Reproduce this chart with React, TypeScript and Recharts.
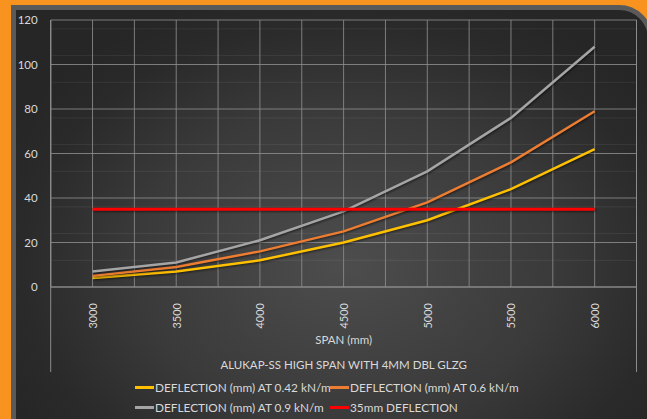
import React from 'react';
import {
  LineChart,
  Line,
  XAxis,
  YAxis,
  CartesianGrid,
  Legend,
  ReferenceLine,
  Label,
} from 'recharts';

// Spans in mm along the horizontal axis
const spans = [3000, 3500, 4000, 4500, 5000, 5500, 6000];

// Deflection (mm) for each wind load
const deflection042 = [4, 7, 12, 20, 30, 44, 62];
const deflection06 = [5, 9, 16, 25, 38, 56, 79];
const deflection09 = [7, 11, 21, 34, 52, 76, 108];
const limit35 = [35, 35, 35, 35, 35, 35, 35];

const yTicks = [0, 20, 40, 60, 80, 100, 120];
const minorY = [4, 8, 12, 16, 24, 28, 32, 36, 44, 48, 52, 56, 64, 68, 72, 76, 84, 88, 92, 96, 104, 108, 112, 116];
const gridX = [2750, 3000, 3250, 3500, 3750, 4000, 4250, 4500, 4750, 5000, 5250, 5500, 5750, 6000, 6250];

const axisTitle = 'SPAN (mm)';
const groupTitle = 'ALUKAP-SS HIGH SPAN WITH 4MM DBL GLZG';

const seriesKeys = ['d042', 'd06', 'd09', 'lim'];
const seriesNames: Record<string, string> = {
  d042: 'DEFLECTION (mm) AT 0.42 kN/m',
  d06: 'DEFLECTION (mm) AT 0.6 kN/m',
  d09: 'DEFLECTION (mm) AT 0.9 kN/m',
  lim: '35mm DEFLECTION',
};

const data = spans.map((span, i) => ({
  span,
  d042: deflection042[i],
  d06: deflection06[i],
  d09: deflection09[i],
  lim: limit35[i],
}));

const FONT = 'Lato, "Open Sans", sans-serif';
const TEXT = '#d9d9d9';
const GRID = '#8c8c8c';

const XTick = (props: any) => {
  const { x, y, payload } = props;
  return (
    <text
      x={x}
      y={y + 8}
      transform={`rotate(-90, ${x}, ${y + 8})`}
      textAnchor="end"
      dominantBaseline="central"
      fill={TEXT}
      fontSize={11}
      fontFamily={FONT}
    >
      {payload.value}
    </text>
  );
};

const legendColumns = [135, 330];

const LegendContent = (props: any) => {
  const items = [...(props.payload || [])].sort(
    (a: any, b: any) => seriesKeys.indexOf(a.dataKey) - seriesKeys.indexOf(b.dataKey)
  );
  return (
    <div style={{ position: 'relative', width: 647, height: 40, fontFamily: FONT }}>
      {items.map((entry: any, i: number) => {
        const col = i % 2;
        const row = Math.floor(i / 2);
        return (
          <div
            key={entry.value}
            style={{
              position: 'absolute',
              left: legendColumns[col],
              top: row * 20,
              height: 16,
              display: 'flex',
              alignItems: 'center',
              whiteSpace: 'nowrap',
            }}
          >
            <span
              style={{
                display: 'inline-block',
                width: 19,
                height: 3,
                background: entry.color,
                marginRight: 1,
              }}
            />
            <span style={{ color: TEXT, fontSize: 11.8 }}>{entry.value}</span>
          </div>
        );
      })}
    </div>
  );
};

const extendedEdge = (p: any) => {
  const top = Math.min(p.y1, p.y2);
  const bottom = Math.max(p.y1, p.y2);
  return <line x1={p.x1} x2={p.x2} y1={top} y2={bottom + 85} stroke={GRID} strokeWidth={1} />;
};

const lineShadow = { filter: 'drop-shadow(1px 1.5px 1px rgba(0,0,0,0.55))' };

export default function App() {
  return (
    <div
      style={{
        position: 'absolute',
        left: 0,
        top: 0,
        width: 647,
        height: 419,
        overflow: 'hidden',
        background: '#f7931e',
      }}
    >
      <div
        style={{
          position: 'absolute',
          left: 11,
          top: 5,
          width: 632,
          height: 440,
          border: '5px solid #5a5a5a',
          borderTopRightRadius: 34,
          boxSizing: 'content-box',
          background:
            'radial-gradient(ellipse 60% 65% at 52% 58%, #4d4d4d 0%, #3a3a3a 55%, #2a2a2a 85%, #262626 100%)',
        }}
      />
      <div style={{ position: 'absolute', left: 0, top: 0 }}>
        <LineChart
          width={647}
          height={419}
          data={data}
          margin={{ top: 20, right: 10.5, left: 0, bottom: 42 }}
        >
          <CartesianGrid
            horizontalValues={minorY}
            vertical={false}
            stroke="rgba(255,255,255,0.07)"
          />
          <CartesianGrid
            horizontalValues={yTicks}
            verticalValues={gridX}
            stroke={GRID}
            strokeOpacity={0.85}
          />
          <XAxis
            dataKey="span"
            type="number"
            domain={[2750, 6250]}
            ticks={spans}
            height={90}
            tick={<XTick />}
            tickLine={false}
            axisLine={{ stroke: GRID }}
            interval={0}
          >
            <Label
              content={(p: any) => (
                <text
                  x={p.viewBox.x + p.viewBox.width / 2}
                  y={339}
                  textAnchor="middle"
                  dominantBaseline="central"
                  fill={TEXT}
                  fontSize={11.5}
                  fontFamily={FONT}
                >
                  {axisTitle}
                </text>
              )}
            />
            <Label
              content={(p: any) => (
                <text
                  x={p.viewBox.x + p.viewBox.width / 2}
                  y={364}
                  textAnchor="middle"
                  dominantBaseline="central"
                  fill={TEXT}
                  fontSize={11.5}
                  fontFamily={FONT}
                >
                  {groupTitle}
                </text>
              )}
            />
          </XAxis>
          <YAxis
            type="number"
            domain={[0, 120]}
            ticks={yTicks}
            width={50.7}
            tickLine={false}
            tickSize={0}
            tickMargin={13}
            axisLine={{ stroke: GRID }}
            tick={{ fill: TEXT, fontSize: 11.5, fontFamily: FONT }}
          />
          <ReferenceLine x={2750} shape={extendedEdge} />
          <ReferenceLine x={6250} shape={extendedEdge} />
          <Line
            type="linear"
            dataKey="d042"
            name={seriesNames.d042}
            stroke="#ffc000"
            strokeWidth={2.5}
            dot={false}
            style={lineShadow}
            isAnimationActive={false}
          />
          <Line
            type="linear"
            dataKey="d06"
            name={seriesNames.d06}
            stroke="#ed7d31"
            strokeWidth={2.5}
            dot={false}
            style={lineShadow}
            isAnimationActive={false}
          />
          <Line
            type="linear"
            dataKey="d09"
            name={seriesNames.d09}
            stroke="#a5a5a5"
            strokeWidth={2.5}
            dot={false}
            style={lineShadow}
            isAnimationActive={false}
          />
          <Line
            type="linear"
            dataKey="lim"
            name={seriesNames.lim}
            stroke="#ff0000"
            strokeWidth={3}
            dot={false}
            style={lineShadow}
            isAnimationActive={false}
          />
          <Legend
            layout="vertical"
            align="center"
            verticalAlign="middle"
            content={<LegendContent />}
            wrapperStyle={{ position: 'absolute', left: 0, top: 379, width: 647 }}
          />
        </LineChart>
      </div>
    </div>
  );
}
